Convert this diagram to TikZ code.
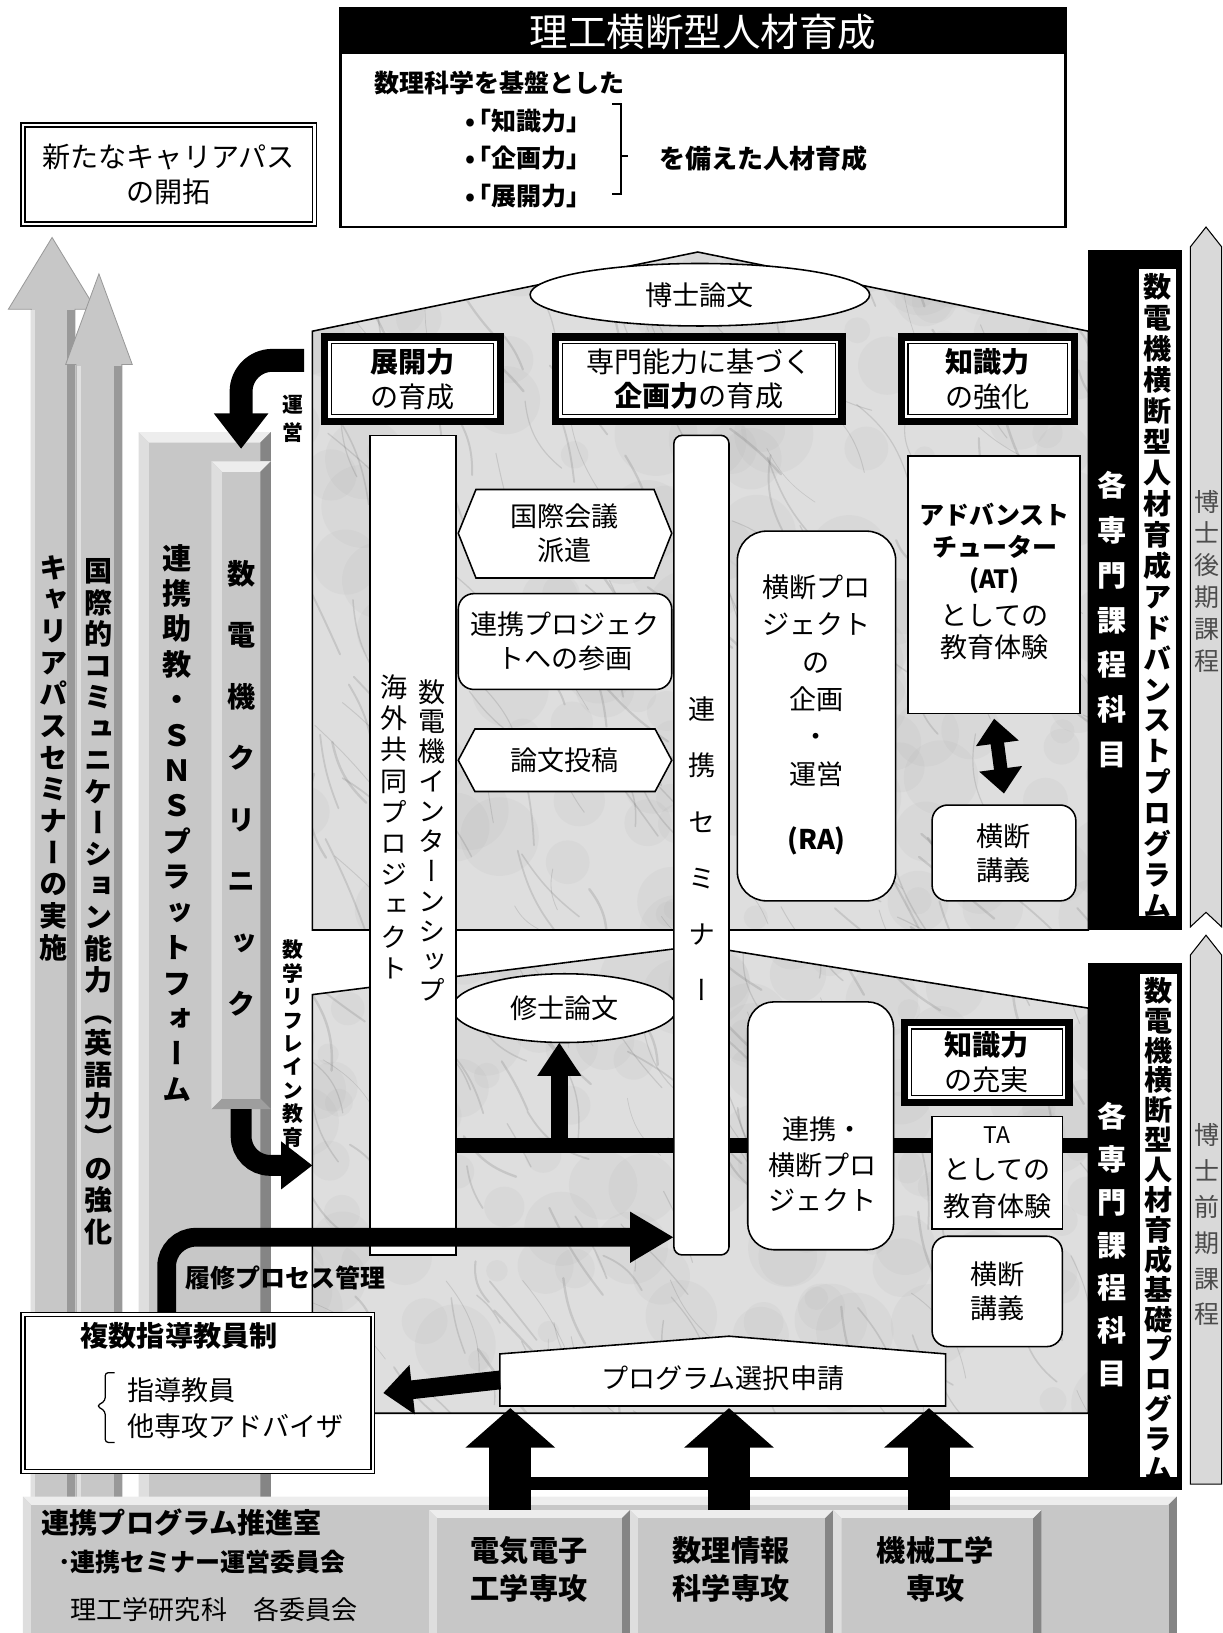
\documentclass[tikz,border=0pt]{standalone}
\usepackage{fontspec}
\setmainfont{Noto Sans CJK JP}
\newfontfamily\vjp[RawFeature=+vert]{Noto Sans CJK JP}
\usetikzlibrary{arrows.meta,calc,shapes.geometric}
\makeatletter
\newcommand\vstk[2]{\vbox{\baselineskip=#1\relax\lineskiplimit=-200pt\lineskip=0pt\vstk@a#2\vstk@end}}
\def\vstk@a#1#2\vstk@end{\hbox to 0pt{\hss#1\hss}\if\relax\detokenize{#2}\relax\else\vstk@a#2\vstk@end\fi}
\makeatother
\newcommand\bevel[5]{%
 \fill[black!22] (#1,#2) rectangle (#3,#4);
 \fill[black!7] (#1,#2) -- (#3,#2) -- (#3-#5,#2+#5) -- (#1+#5,#2+#5) -- cycle;
 \fill[black!13] (#1,#2) -- (#1+#5,#2+#5) -- (#1+#5,#4-#5) -- (#1,#4) -- cycle;
 \fill[black!48] (#3,#2) -- (#3,#4) -- (#3-#5,#4-#5) -- (#3-#5,#2+#5) -- cycle;
 \fill[black!38] (#1,#4) -- (#3,#4) -- (#3-#5,#4-#5) -- (#1+#5,#4-#5) -- cycle;
 \fill[black!22] (#1+#5,#2+#5) rectangle (#3-#5,#4-#5);
}
\newcommand\marble[4]{%
 \pgfmathsetseed{#1}%
 \foreach \i in {1,...,#2}{%
  \pgfmathsetmacro\mxa{280+800*rnd}%
  \pgfmathsetmacro\mya{#3+#4*rnd}%
  \pgfmathsetmacro\mrad{10+30*rnd}%
  \fill[black!35, opacity=.09] (\mxa,\mya) circle[radius=\mrad];
 }%
 \foreach \i in {1,...,#2}{%
  \pgfmathsetmacro\mxa{280+800*rnd}%
  \pgfmathsetmacro\mya{#3+#4*rnd}%
  \pgfmathsetmacro\mlen{30+80*rnd}%
  \pgfmathsetmacro\mang{35+50*rnd}%
  \pgfmathsetmacro\mbend{-25+50*rnd}%
  \pgfmathsetmacro\mwid{0.6+1.8*rnd}%
  \draw[black!60, opacity=.2, line width=\mwid pt, line cap=round] (\mxa,\mya) to[bend left=\mbend] ++(\mang:\mlen);
 }}
\newcommand\hdrbox[6]{%
 \fill[black] (#2,#3) rectangle (#4,#5);
 \fill[white] (#2+7,#3+7) rectangle (#4-7,#5-7);
 \draw[line width=1.3pt] (#2+10,#3+10) rectangle (#4-10,#5-10);
 \node[align=center, font=\fontsize{27}{33}\selectfont] (#1) at ({(#2+#4)/2},{(#3+#5)/2}) {#6};
}
\begin{document}
\begin{tikzpicture}[x=1pt,y=-1pt,
  every node/.style={inner sep=0pt, outer sep=0pt},
  tx/.style={font=\fontsize{26}{33}\selectfont, align=center},
  wb/.style={draw, line width=1.5pt, fill=white},
  db/.style={draw, line width=1.3pt, double, double distance=2.4pt, fill=white},
  vtb/.style={font=\vjp\bfseries\fontsize{#1}{#1}\selectfont},
  vtr/.style={font=\vjp\fontsize{#1}{#1}\selectfont},
  ]
\useasboundingbox (0,0) rectangle (1174,1568);

% ---------- left gray arrows ----------
\filldraw[fill=black!22, draw=black!40, line width=.8pt] (30,1450) -- (30,297) -- (8,297) -- (50,228) -- (92,297) -- (72,297) -- (72,1450) -- cycle;
\fill[black!40] (64,298) rectangle (72,1450);
\fill[black!12] (30,298) rectangle (34,1450);
\filldraw[fill=black!22, draw=black!40, line width=.8pt] (73,1450) -- (73,350) -- (63,350) -- (95,263) -- (127,350) -- (117,350) -- (117,1450) -- cycle;
\fill[black!40] (109,351) rectangle (117,1450);
\fill[black!12] (74,351) rectangle (78,1450);
\node[vtb=27] (carsem) at (51,728) {\vstk{30.4pt}{キャリアパスセミナーの実施}};
\node[vtb=27] (intcom) at (95,866) {\vstk{30.2pt}{国際的コミュニケーション能力（英語力）の強化}};

% ---------- columns ----------
\bevel{133}{415}{260}{1450}{10}
\node (sns) at (196.5,932.5) [minimum width=127, minimum height=1035] {};
\node[vtb=28] (snstxt) at (170,790) {\vstk{34pt}{連携助教・ＳＮＳプラットフォーム}};
\bevel{203}{443}{260}{1065}{10}
\node (clinic) at (231.5,754) [minimum width=57, minimum height=622] {};
\node[vtb=27] (clinictxt) at (232,757) {\vstk{59pt}{数電機クリニック}};

% ---------- title ----------
\node[draw, line width=2.5pt, fill=white, minimum width=696, minimum height=210] (titlebox) at (675,113) {};
\fill (327,8) rectangle (1023,52);
\node[text=white, font=\fontsize{37}{40}\selectfont] (title) at (675,31) {理工横断型人材育成};
\node[anchor=west, font=\bfseries\fontsize{24}{28}\selectfont] (base) at (360,80) {数理科学を基盤とした};
\node[anchor=west, font=\bfseries\fontsize{24}{28}\selectfont] (b1) at (447,116) {•\kern-9pt「知識力」};
\node[anchor=west, font=\bfseries\fontsize{24}{28}\selectfont] (b2) at (447,152) {•\kern-9pt「企画力」};
\node[anchor=west, font=\bfseries\fontsize{24}{28}\selectfont] (b3) at (447,188) {•\kern-9pt「展開力」};
\draw[line width=2pt] (588,100) -- (596,100) -- (596,186) -- (588,186);
\draw[line width=2pt] (596,150) -- (603,150);
\node[anchor=west, font=\bfseries\fontsize{25}{28}\selectfont] (sonae) at (633,152) {を備えた人材育成};

% ---------- career box ----------
\node[db, minimum width=280, minimum height=95, font=\fontsize{27}{34}\selectfont, align=center] (career) at (162,167.5) {新たなキャリアパス\\の開拓};

% ---------- houses ----------
\begin{scope}
\clip (300,893) -- (300,318) -- (670,242) -- (1045,318) -- (1045,893) -- cycle;
\fill[black!13] (280,220) rectangle (1060,900);
\marble{3}{170}{220}{680}
\end{scope}
\draw[line width=1.5pt] (300,893) -- (300,318) -- (670,242) -- (1045,318) -- (1045,893) -- cycle;
\begin{scope}
\clip (300,1357) -- (300,955) -- (672,908) -- (1045,968) -- (1045,1357) -- cycle;
\fill[black!13] (280,900) rectangle (1060,1360);
\marble{11}{125}{890}{470}
\end{scope}
\draw[line width=1.5pt] (300,1357) -- (300,955) -- (672,908) -- (1045,968) -- (1045,1357) -- cycle;

% ---------- upper house contents ----------
\node[wb, ellipse, minimum width=326, minimum height=60, tx] (hakase) at (672,283) {博士論文};
\hdrbox{hb1}{308}{320}{484}{408}{{\bfseries 展開力}\\の育成}
\hdrbox{hb2}{530}{320}{812}{408}{専門能力に基づく\\{\bfseries 企画力}の育成}
\hdrbox{hb3}{862}{320}{1035}{408}{{\bfseries 知識力}\\の強化}

% ---------- lower house: connectors behind boxes ----------
\coordinate (hl) at (438,1100);
\coordinate (hr) at (1045,1100);
\draw[line width=15pt] (hl) -- (hr);
\node[wb, ellipse, minimum width=216, minimum height=66, tx] (shushi) at (542,968) {修士論文};
\draw[line width=16pt, -{Triangle[width=40pt,length=32pt]}] (537,1100) -- ([xshift=-5pt]shushi.south);
\coordinate (rs) at (160,1188);

% ---------- tall bars ----------
\node[wb, minimum width=83, minimum height=787] (intern) at (396.5,811.5) {};
\node[vtr=26] (interntxt1) at (415,807) {\vstk{28.7pt}{数電機インターンシップ}};
\node[vtr=26] (interntxt2) at (378,794) {\vstk{30pt}{海外共同プロジェクト}};
\node[wb, rounded corners=8pt, minimum width=53, minimum height=787] (seminar) at (673.5,811.5) {};
\node[vtr=26] (seminartxt) at (674,815) {\vstk{54pt}{連携セミナー}};
\draw[line width=18pt, rounded corners=28pt, -{Triangle[width=46pt,length=42pt]}] (rs |- 0,1262) -- (rs) -- (seminar.west |- rs);
\node[anchor=west, font=\bfseries\fontsize{24}{28}\selectfont] (rishu) at (178,1227) {履修プロセス管理};

% ---------- upper house boxes ----------
\draw[wb] (440,512) -- (457,470) -- (628,470) -- (645,512) -- (628,555) -- (457,555) -- cycle;
\node[tx] (kokusai) at (542,512) {国際会議\\派遣};
\node[wb, rounded corners=15pt, minimum width=205, minimum height=92, tx] (rproj) at (542.5,616) {連携プロジェク\\トへの参画};
\draw[wb] (440,730) -- (456,700) -- (629,700) -- (645,730) -- (629,760) -- (456,760) -- cycle;
\node[tx] (ronbun) at (542,730) {論文投稿};
\node[wb, rounded corners=28pt, minimum width=152, minimum height=355] (kikaku) at (784,687.5) {};
\node[align=center, font=\fontsize{26}{36}\selectfont] (kikakutxt) at (784,686) {横断プロ\\ジェクト\\の\\企画\\・\\運営\\[26pt]{\bfseries (RA)}};
\node[wb, minimum width=165, minimum height=247] (at) at (954.5,561.5) {};
\node[align=center, font=\fontsize{26}{31}\selectfont] (attxt) at (955,558) {{\bfseries\fontsize{24}{31}\selectfont アドバンスト}\\{\bfseries\fontsize{24}{31}\selectfont チューター}\\{\bfseries\fontsize{24}{31}\selectfont (AT)}\\[4pt]としての\\教育体験};
\node[wb, rounded corners=15pt, minimum width=138, minimum height=92, tx] (kodan1) at (964,819) {横断\\講義};
\draw[line width=13pt, {Triangle[width=40pt,length=24pt]}-{Triangle[width=40pt,length=24pt]}] ([yshift=-5pt]at.south) -- ([yshift=11pt]kodan1.north);

% ---------- right bars ----------
\node[fill=black, minimum width=90, minimum height=653] (barA) at (1090,566.5) {};
\node[fill=white, minimum width=36, minimum height=622] (stripA) at (1111.5,569) {};
\node[vtb=28, text=white] (kakuA) at (1068,595) {\vstk{43pt}{各専門課程科目}};
\node[vtb=27] (advA) at (1111,572) {\vstk{29.7pt}{数電機横断型人材育成アドバンストプログラム}};
\node[fill=black, minimum width=90, minimum height=500] (barB) at (1090,1175) {};
\node[fill=white, minimum width=35, minimum height=485] (stripB) at (1112.5,1177.5) {};
\node[vtb=28, text=white] (kakuB) at (1068,1195) {\vstk{41pt}{各専門課程科目}};
\node[vtb=27] (basB) at (1112,1180) {\vstk{28.7pt}{数電機横断型人材育成基礎プログラム}};
\filldraw[fill=black!15, draw=black, line width=1pt] (1143,890) -- (1143,237) -- (1158,218) -- (1173,237) -- (1173,890) -- (1158,876) -- cycle;
\filldraw[fill=black!15, draw=black, line width=1pt] (1143,1425) -- (1143,917) -- (1158,898) -- (1173,917) -- (1173,1425) -- cycle;
\node[vtr=24, text=black!70] (dkoki) at (1159,558) {\vstk{30.6pt}{博士後期課程}};
\node[vtr=24, text=black!70] (dzenki) at (1159,1176) {\vstk{34.4pt}{博士前期課程}};

% ---------- lower house boxes ----------
\node[wb, rounded corners=25pt, minimum width=140, minimum height=238] (renkei2) at (788,1081) {};
\node[align=center, font=\fontsize{26}{34}\selectfont] (renkei2txt) at (790,1118) {連携・\\横断プロ\\ジェクト};
\hdrbox{hb4}{865}{978}{1030}{1062}{{\bfseries 知識力}\\の充実}
\node[wb, minimum width=125, minimum height=108, align=center, font=\fontsize{26}{35}\selectfont] (ta) at (957.5,1126) {{\fontsize{22}{35}\selectfont TA}\\としての\\教育体験};
\node[wb, rounded corners=15pt, minimum width=125, minimum height=106, tx] (kodan2) at (957.5,1240) {横断\\講義};

% ---------- program selection ----------
\draw[wb] (480,1350) -- (480,1300) -- (700,1283) -- (908,1300) -- (908,1350) -- cycle;
\node[minimum width=428, minimum height=50] (prog) at (694,1325) {};
\node[tx] (progtxt) at (694,1323) {プログラム選択申請};

% ---------- multiple supervisors ----------
\node[db, minimum width=336, minimum height=151] (ksu) at (190,1337.5) {};
\node[font=\bfseries\fontsize{27}{30}\selectfont] (ksut) at (172,1283) {複数指導教員制};
\node[anchor=west, align=left, font=\fontsize{26}{35}\selectfont] (ksul) at (122,1352) {指導教員\\他専攻アドバイザ};
\draw[line width=1.2pt, rounded corners=3pt] (110,1318) -- (101,1318) -- (101,1345) -- (93,1350) -- (101,1355) -- (101,1385) -- (110,1385);
\draw[line width=18pt, -{Triangle[width=46pt,length=28pt]}] (prog.west) -- ([xshift=10pt]ksu.east);

% ---------- side bent arrows ----------
\coordinate (unei0) at (292,346);
\draw[line width=22pt, rounded corners=30pt, -{Triangle[width=50pt,length=34pt]}] (unei0) -- (unei0 -| clinic.north) -- ([yshift=12pt]clinic.north);
\node[font=\vjp\bfseries\fontsize{20}{20}\selectfont] (unei) at (281,402) {\vstk{27pt}{運営}};
\coordinate (refr) at (300,1119);
\draw[line width=20pt, rounded corners=28pt, -{Triangle[width=44pt,length=30pt]}] (clinic.south) -- (clinic.south |- refr) -- (refr);
\node[font=\vjp\bfseries\fontsize{20}{20}\selectfont] (refrain) at (281,1002) {\vstk{22.5pt}{数学リフレイン教育}};

% ---------- bottom panel ----------
\bevel{22}{1437}{1130}{1578}{8}
\bevel{412}{1450}{605}{1578}{8}
\bevel{605}{1450}{800}{1578}{8}
\bevel{800}{1450}{1000}{1578}{8}
\node[minimum width=193, minimum height=128] (denki) at (508.5,1514) {};
\node[minimum width=195, minimum height=128] (suri) at (702.5,1514) {};
\node[minimum width=200, minimum height=128] (kikai) at (900,1514) {};
\node[align=center, font=\bfseries\fontsize{28}{37}\selectfont] (denkitxt) at (508,1507) {電気電子\\工学専攻};
\node[align=center, font=\bfseries\fontsize{28}{37}\selectfont] (suritxt) at (702,1507) {数理情報\\科学専攻};
\node[align=center, font=\bfseries\fontsize{28}{37}\selectfont] (kikaitxt) at (898,1507) {機械工学\\専攻};
\node[anchor=west, font=\bfseries\fontsize{27}{30}\selectfont] (office1) at (40,1462) {連携プログラム推進室};
\node[anchor=west, font=\bfseries\fontsize{24}{30}\selectfont] (office2) at (56,1500) {･連携セミナー運営委員会};
\node[anchor=west, font=\fontsize{25}{30}\selectfont] (office3) at (68,1545) {理工学研究科　各委員会};

\fill (480,1418) rectangle (1135,1431);
\coordinate (u1) at (490,1352);
\coordinate (u2) at (700,1352);
\coordinate (u3) at (892,1352);
\draw[line width=40pt, -{Triangle[width=84pt,length=38pt]}] (u1 |- denki.north) -- (u1);
\draw[line width=40pt, -{Triangle[width=84pt,length=38pt]}] (u2 |- suri.north) -- (u2);
\draw[line width=40pt, -{Triangle[width=84pt,length=38pt]}] (u3 |- kikai.north) -- (u3);
\end{tikzpicture}
\end{document}
